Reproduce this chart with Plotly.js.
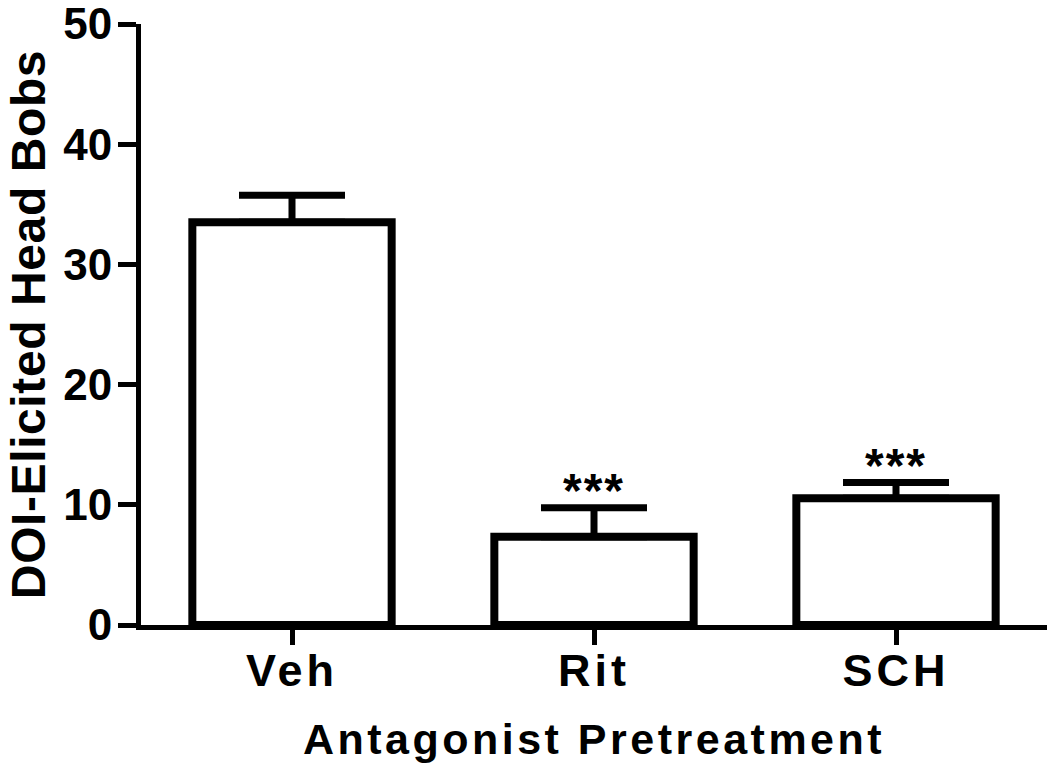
<!DOCTYPE html>
<html>
<head>
<meta charset="utf-8">
<script src="https://cdn.plot.ly/plotly-3.0.1.min.js"></script>
<style>
html,body{margin:0;padding:0;background:#fff;}
#chart{width:1050px;height:770px;}
#chart .xtick text{letter-spacing:4px;}
#chart text.xtitle{letter-spacing:3.5px;}
#chart text.ytitle{letter-spacing:0.6px;}
#chart g.g-ytitle{transform:translate(-4px,0px);}
#chart .annotation-text{letter-spacing:2px;}
</style>
</head>
<body>
<div id="chart"></div>
<script>
var categories = ["Veh", "Rit", "SCH"];
var means = [33.5, 7.35, 10.55];
var sems = [2.25, 2.4, 1.3];
var sigLabels = ["", "***", "***"];
var yTicks = [0, 10, 20, 30, 40, 50];

var FONT = "Liberation Sans, Arial, Helvetica, sans-serif";

var trace = {
  type: "bar",
  x: categories,
  y: means,
  width: 0.66,
  marker: { color: "#ffffff", line: { color: "#000000", width: 8 } },
  error_y: {
    type: "data",
    array: sems,
    arrayminus: sems.map(function(){ return 0; }),
    symmetric: false,
    color: "#000000",
    thickness: 7,
    width: 53,
    visible: true
  },
  hoverinfo: "none"
};

var annotations = [];
for (var i = 0; i < categories.length; i++) {
  if (sigLabels[i]) {
    annotations.push({
      x: categories[i], y: means[i] + sems[i],
      xref: "x", yref: "y",
      text: "<b>" + sigLabels[i] + "</b>", showarrow: false,
      yanchor: "bottom", yshift: -11,
      font: { family: FONT, size: 48, color: "#000" }
    });
  }
}

var layout = {
  width: 1050, height: 770,
  margin: { l: 141, r: 3, t: 24, b: 145 },
  paper_bgcolor: "#ffffff", plot_bgcolor: "#ffffff",
  showlegend: false,
  font: { family: FONT, color: "#000" },
  xaxis: {
    type: "category",
    range: [-0.5, 2.5],
    showline: true, linecolor: "#000", linewidth: 5,
    ticks: "outside", ticklen: 15, tickwidth: 5, tickcolor: "#000",
    ticklabelstandoff: -13,
    showgrid: false, zeroline: false,
    tickvals: categories,
    ticktext: categories.map(function(c){ return "<b>" + c + "</b>"; }),
    tickfont: { family: FONT, size: 45, color: "#000" },
    title: { text: "<b>Antagonist Pretreatment</b>", font: { family: FONT, size: 43, color: "#000" }, standoff: 30 }
  },
  yaxis: {
    range: [0, 50],
    tickvals: yTicks,
    ticktext: yTicks.map(function(v){ return "<b>" + v + "</b>"; }),
    ticklabeloverflow: "allow",
    ticklabelstandoff: -3,
    showline: true, linecolor: "#000", linewidth: 5,
    ticks: "outside", ticklen: 18, tickwidth: 5, tickcolor: "#000",
    showgrid: false, zeroline: false,
    tickfont: { family: FONT, size: 44, color: "#000" },
    title: { text: "<b>DOI-Elicited Head Bobs</b>", font: { family: FONT, size: 48, color: "#000" }, standoff: 0 }
  },
  annotations: annotations
};

Plotly.newPlot("chart", [trace], layout, { displayModeBar: false, staticPlot: true });
</script>
</body>
</html>
